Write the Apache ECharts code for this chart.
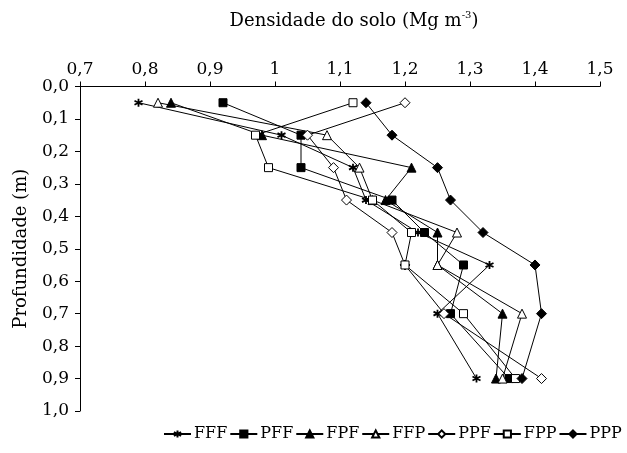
<!DOCTYPE html>
<html><head><meta charset="utf-8">
<script src="https://cdn.jsdelivr.net/npm/echarts@6/dist/echarts.min.js"></script>
<style>html,body{margin:0;padding:0;background:#fff}#c{width:627px;height:453px}</style>
</head><body><div id="c"></div>
<script>
const depths = [0.05, 0.15, 0.25, 0.35, 0.45, 0.55, 0.7, 0.9];
const seriesNames = ['FFF', 'PFF', 'FPF', 'FFP', 'PPF', 'FPP', 'PPP'];
const FFF = [0.79, 1.01, 1.12, 1.14, 1.22, 1.33, 1.25, 1.31];
const PFF = [0.92, 1.04, 1.04, 1.18, 1.23, 1.29, 1.27, 1.36];
const FPF = [0.84, 0.98, 1.21, 1.17, 1.25, 1.25, 1.35, 1.34];
const FFP = [0.82, 1.08, 1.13, 1.15, 1.28, 1.25, 1.38, 1.35];
const PPF = [1.20, 1.05, 1.09, 1.11, 1.18, 1.20, 1.26, 1.41];
const FPP = [1.12, 0.97, 0.99, 1.15, 1.21, 1.20, 1.29, 1.37];
const PPP = [1.14, 1.18, 1.25, 1.27, 1.32, 1.40, 1.41, 1.38];
const values = [FFF, PFF, FPF, FFP, PPF, FPP, PPP];
const xTickLabels = ['0,7','0,8','0,9','1','1,1','1,2','1,3','1,4','1,5'];
const yTickLabels = ['0,0','0,1','0,2','0,3','0,4','0,5','0,6','0,7','0,8','0,9','1,0'];

const FONT = 'DejaVu Serif';
const star = 'path://M0,-1L0,1M-0.87,-0.5L0.87,0.5M-0.87,0.5L0.87,-0.5';
const markers = [
  {symbol: star, size: 8, fill: '#000', bw: 1.8},
  {symbol: 'rect', size: 8, fill: '#000', bw: 1},
  {symbol: 'triangle', size: 9, fill: '#000', bw: 1},
  {symbol: 'triangle', size: 9, fill: '#fff', bw: 1},
  {symbol: 'diamond', size: 10, fill: '#fff', bw: 1},
  {symbol: 'rect', size: 8, fill: '#fff', bw: 1},
  {symbol: 'diamond', size: 10, fill: '#000', bw: 1}
];

const chart = echarts.init(document.getElementById('c'), null, {renderer: 'canvas'});
chart.setOption({
  animation: false,
  backgroundColor: '#fff',
  textStyle: {fontFamily: FONT, color: '#000'},
  grid: {left: 80, right: 27, top: 86.5, bottom: 42, containLabel: false},
  xAxis: {
    type: 'value', position: 'top', min: 0.7, max: 1.5, interval: 0.1,
    name: 'Densidade do solo (Mg m{sup|-3})', nameLocation: 'middle', nameGap: 55,
    nameTextStyle: {fontFamily: FONT, fontSize: 18, color: '#000', padding: [0, 0, 0, 28],
      rich: {sup: {fontFamily: FONT, fontSize: 10, color: '#000', padding: [0, 0, 11, 0]}}},
    axisLine: {show: true, lineStyle: {color: '#000', width: 1}},
    axisTick: {show: true, inside: false, length: 5, lineStyle: {color: '#000'}},
    axisLabel: {fontFamily: FONT, fontSize: 17, color: '#000', margin: 8,
      formatter: (v) => xTickLabels[Math.round((v - 0.7) * 10)]},
    splitLine: {show: false}
  },
  yAxis: {
    type: 'value', inverse: true, min: 0, max: 1, interval: 0.1,
    name: 'Profundidade (m)', nameLocation: 'middle', nameGap: 50, nameRotate: 90,
    nameTextStyle: {fontFamily: FONT, fontSize: 18, color: '#000'},
    axisLine: {show: true, lineStyle: {color: '#000', width: 1}},
    axisTick: {show: true, inside: false, length: 5, lineStyle: {color: '#000'}},
    axisLabel: {fontFamily: FONT, fontSize: 17, color: '#000', margin: 11,
      formatter: (v) => yTickLabels[Math.round(v * 10)]},
    splitLine: {show: false}
  },
  legend: {
    bottom: 6, left: 158, width: 469, itemGap: 2, itemWidth: 27, itemHeight: 9,
    textStyle: {fontFamily: FONT, fontSize: 16, color: '#000', padding: [0, 1, 0, -2]},
    data: seriesNames
  },
  series: seriesNames.map((n, i) => ({
    name: n, type: 'line',
    data: values[i].map((v, k) => [v, depths[k]]),
    symbol: markers[i].symbol, symbolSize: markers[i].size,
    showAllSymbol: true,
    lineStyle: {color: '#000', width: 1},
    itemStyle: {color: markers[i].fill, borderColor: '#000', borderWidth: markers[i].bw},
    emphasis: {disabled: true}
  }))
});
</script></body></html>
